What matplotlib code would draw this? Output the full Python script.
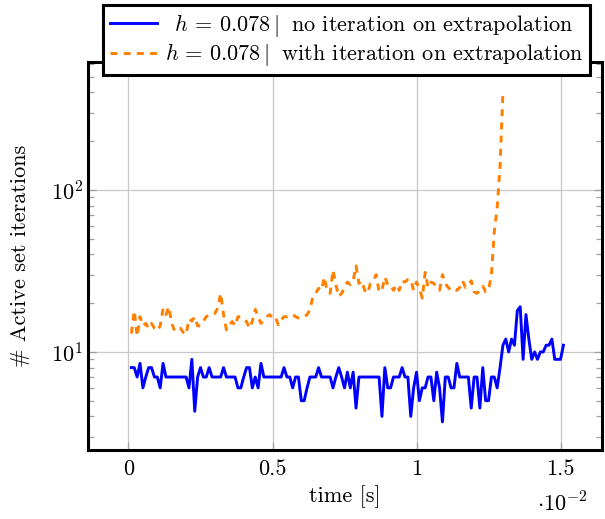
import numpy as np
import matplotlib
matplotlib.use('Agg')
import matplotlib.pyplot as plt
from matplotlib.ticker import FixedLocator, FuncFormatter, LogLocator, NullFormatter

plt.rcParams['font.family'] = 'cmr10'
plt.rcParams['mathtext.fontset'] = 'cm'
plt.rcParams['axes.formatter.use_mathtext'] = True
plt.rcParams['lines.scale_dashes'] = False

# time step of the simulation [s]
dt = 1e-4

# active set iterations per time step, no iteration on extrapolation
iters_no_extra = [
    8, 8, 7, 8.5, 6, 7, 8, 8, 7, 7,
    6, 8.5, 7, 7, 7, 7, 7, 7, 7, 7,
    6, 9, 4.3, 7, 8, 7, 7, 8, 7, 7,
    7, 7, 8, 7, 7, 7, 7, 6, 6, 7,
    8, 8, 6, 7, 6, 8.5, 7, 7, 7, 7,
    7, 7, 7, 8, 7, 7, 6, 7, 7, 5,
    5, 6, 7, 7, 7, 8, 7, 7, 7, 7,
    6, 7, 8, 7, 6, 7.5, 6, 7.5, 4.5, 7,
    7, 7, 7, 7, 7, 7, 7, 4, 8, 6,
    6, 7, 7, 7, 8, 7, 7, 4, 6, 7.5,
    5, 6, 6, 7, 7, 5, 7.5, 6, 3.7, 7,
    7, 6, 6, 8.5, 7, 7, 7, 7, 4.5, 7,
    7, 4.5, 8, 5, 5, 7, 7, 6, 8, 11,
    12, 10, 12, 11, 18, 19, 9, 17, 12, 9,
    10, 9, 10, 10, 11, 11, 12, 9, 9, 9,
    11,
]

# active set iterations per time step, with iteration on extrapolation
iters_with_extra = [
    13, 18, 12.5, 16.5, 14.5, 15, 14, 15, 14, 13.5,
    14.5, 18.5, 17, 19, 15, 13.5, 14, 14, 13.2, 12.8,
    16, 15.5, 16.5, 14.5, 14.5, 15.5, 16.5, 17, 17.3, 17.3,
    18.7, 23, 17, 13.7, 14.7, 15.4, 14.5, 16.5, 16.5, 16,
    15.4, 14, 15.5, 18.3, 16.5, 15, 15.8, 16.5, 17, 16.2,
    16.5, 14.7, 15.8, 16.5, 16.5, 16.8, 17, 16.5, 16.2, 16.2,
    16.5, 17, 18.2, 22, 23, 24.7, 24, 29, 23.5, 23,
    32, 26, 22, 23, 25, 27, 26, 27.5, 34, 26.5,
    27.5, 24, 23, 26.5, 27.5, 30, 23.5, 24, 29, 26,
    26, 24, 26, 24, 27.5, 27, 28, 28, 24, 27,
    24.5, 21.5, 31, 25, 27, 26.5, 25, 24, 30, 26.5,
    25, 24, 24.5, 24, 25, 27.5, 25, 26, 27.5, 23.5,
    23, 24, 25.5, 23.5, 24, 30, 55, 78, 140, 400,
]

# blue label gets a small lead-in so both labels sit centred like the original
labels = [r'$\enspace h \,=\, 0.078 \mid$ no iteration on extrapolation',
          r'$h \,=\, 0.078 \mid$ with iteration on extrapolation']
x_ticks = [0, 0.5e-2, 1e-2, 1.5e-2]

t_no = np.arange(1, len(iters_no_extra) + 1) * dt
t_with = np.arange(1, len(iters_with_extra) + 1) * dt

fig = plt.figure(figsize=(6.05, 5.19), dpi=100)
ax = fig.add_axes([88/605, 1 - 450/519, (602 - 88)/605, (450 - 62)/519])

ax.plot(t_no, iters_no_extra, color=(0, 0, 1), lw=2.1, label=labels[0])
l2, = ax.plot(t_with, iters_with_extra, color=(1, 0.5, 0), lw=2.1, label=labels[1])
l2.set_dashes([5, 4.5])

ax.set_yscale('log')
ax.set_xlim(-0.1406e-2, 1.644e-2)
ax.set_ylim(2.48, 617)

ax.xaxis.set_major_locator(FixedLocator(x_ticks))
ax.xaxis.set_major_formatter(FuncFormatter(lambda v, p: f'{v*100:g}'))
ax.yaxis.set_major_locator(LogLocator(base=10, numticks=10))
ax.yaxis.set_minor_locator(LogLocator(base=10, subs=np.arange(2, 10), numticks=10))
ax.yaxis.set_minor_formatter(NullFormatter())

ax.grid(True, which='major', color='#c8c8c8', lw=0.9)
ax.tick_params(which='both', direction='in', top=True, right=True, color='#a0a0a0', labelsize=16)
ax.tick_params(which='major', length=6, width=0.9)
ax.tick_params(which='minor', length=4, width=0.9)
ax.tick_params(axis='x', pad=7)
for s in ax.spines.values():
    s.set_linewidth(2.2)
    s.set_color('black')

ax.set_xlabel('time [s]', fontsize=16)
ax.xaxis.set_label_coords(0.5, -0.09)
ax.set_ylabel('# Active set iterations', fontsize=16)
ax.yaxis.set_label_coords(-0.112, 0.5)
fig.text(562/605, 1 - 503/519, r'$\cdot 10^{-2}$', ha='center', va='center', fontsize=16)

leg = ax.legend(loc='upper center', bbox_to_anchor=(346.5/605, 1 - 5/519),
                bbox_transform=fig.transFigure, fontsize=16, fancybox=False,
                framealpha=1, edgecolor='black', handlelength=2.1,
                borderaxespad=0, borderpad=0.32, labelspacing=0.1, handletextpad=0.35)
leg.get_frame().set_linewidth(2.2)

fig.savefig('out.png', dpi=100)
